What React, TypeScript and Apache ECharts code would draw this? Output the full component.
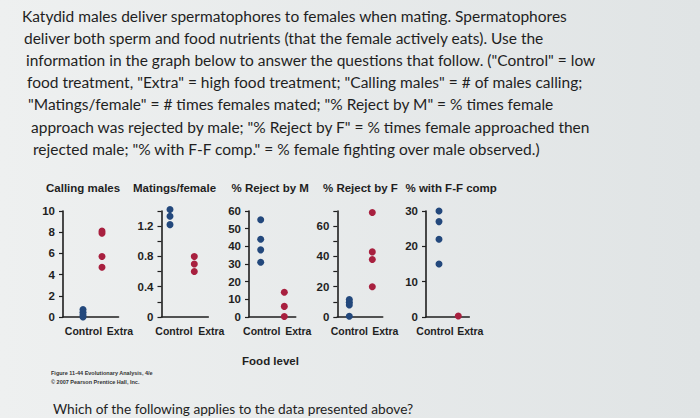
import React, { useEffect, useRef } from "react";
import * as echarts from "echarts";

// ---- data ----
const categories = ["Control", "Extra"];
const panelTitles = ["Calling males", "Matings/female", "% Reject by M", "% Reject by F", "% with F-F comp"];

const callingControl = [0.7, 0.45, 0.2, 0];
const callingExtra = [8.1, 7.9, 5.7, 4.7];
const matingsControl = [1.42, 1.33, 1.22];
const matingsExtra = [0.8, 0.7, 0.6];
const rejectMControl = [55, 44, 38, 31];
const rejectMExtra = [14, 6, 0.3];
const rejectFControl = [11.5, 9.8, 8, 0.5];
const rejectFExtra = [69, 43, 38, 20];
const ffControl = [30, 27, 22, 15];
const ffExtra = [0.3];

const callingTicks = ["0", "2", "4", "6", "8", "10"];
const matingsTicks = ["0", "0.4", "0.8", "1.2"];
const rejectMTicks = ["0", "10", "20", "30", "40", "50", "60"];
const rejectFTicks = ["0", "20", "40", "60"];
const ffTicks = ["0", "10", "20", "30"];

const paragraphLines = [
  "Katydid males deliver spermatophores to females when mating. Spermatophores",
  "deliver both sperm and food nutrients (that the female actively eats). Use the",
  "information in the graph below to answer the questions that follow. (\"Control\" = low",
  "food treatment, \"Extra\" = high food treatment; \"Calling males\" = # of males calling;",
  "\"Matings/female\" = # times females mated; \"% Reject by M\" = % times female",
  "approach was rejected by male; \"% Reject by F\" = % times female approached then",
  "rejected male; \"% with F-F comp.\" = % female fighting over male observed.)",
];
const xAxisTitle = "Food level";
const creditLines = ["Figure 11-44 Evolutionary Analysis, 4/e", "\u00a9 2007 Pearson Prentice Hall, Inc."];
const questionText = "Which of the following applies to the data presented above?";

const panels = [
  { title: panelTitles[0], control: callingControl, extra: callingExtra, max: 10, interval: 2, ticks: callingTicks },
  { title: panelTitles[1], control: matingsControl, extra: matingsExtra, max: 1.4, interval: 0.2, ticks: matingsTicks },
  { title: panelTitles[2], control: rejectMControl, extra: rejectMExtra, max: 60, interval: 10, ticks: rejectMTicks },
  { title: panelTitles[3], control: rejectFControl, extra: rejectFExtra, max: 70, interval: 10, ticks: rejectFTicks },
  { title: panelTitles[4], control: ffControl, extra: ffExtra, max: 30, interval: 10, ticks: ffTicks },
];

// ---- layout (pixels) ----
// axisX, controlX, extraX, endX, titleX, controlLabelShift, extraLabelShift
const layout = [
  [63, 83, 102, 118.5, 46, 0.5, 18],
  [161.5, 170, 194.3, 208.3, 133, 4, 17],
  [249, 260.7, 284.3, 295.7, 231.5, 1, 14],
  [337.3, 349.3, 372.3, 382.7, 323, 0, 13],
  [426, 439, 458.3, 469.3, 405.5, -4, 12],
];
const lineX = [22, 24, 26, 27, 28, 31, 33];
const lineY = [16, 38, 60, 82, 104, 127, 149];

const BLUE = "#23487c";
const RED = "#a8203f";
const INK = "#1f1f1f";
const CHART_FONT = "'Liberation Sans', Arial, sans-serif";
const TEXT_FONT = "Lato, 'Noto Sans', sans-serif";

function shiftPad(d: number) {
  return d >= 0 ? [0, 0, 0, 2 * d] : [0, -2 * d, 0, 0];
}

export default function App() {
  const ref = useRef<HTMLDivElement>(null);
  useEffect(() => {
    if (!ref.current) return;
    const chart = echarts.init(ref.current, undefined, { renderer: "svg", width: 700, height: 418 });
    const GRID_TOP = 211;
    const GRID_H = 106;

    const grids = panels.map((p, i) => {
      const [ax, , , ex] = layout[i];
      return { left: ax, top: GRID_TOP, width: ex - ax, height: GRID_H, containLabel: false };
    });
    const xAxes = panels.map((p, i) => {
      const [ax, cx, xx, ex, , cs, es] = layout[i];
      const unit = xx - cx;
      return {
        type: "value",
        gridIndex: i,
        min: 1 - (cx - ax) / unit,
        max: 2 + (ex - xx) / unit,
        axisLine: { show: true, onZero: false, lineStyle: { color: INK, width: 1.6 } },
        axisTick: { show: false },
        splitLine: { show: false },
        axisLabel: {
          customValues: [1, 2],
          margin: 8,
          formatter: (v: number) => (Math.round(v) === 1 ? "{c|" + categories[0] + "}" : "{e|" + categories[1] + "}"),
          rich: {
            c: { fontFamily: CHART_FONT, fontWeight: "bold", fontSize: 10.5, color: INK, padding: shiftPad(cs) },
            e: { fontFamily: CHART_FONT, fontWeight: "bold", fontSize: 10.5, color: INK, padding: shiftPad(es) },
          },
        },
      };
    });
    const yAxes = panels.map((p, i) => ({
      type: "value",
      gridIndex: i,
      min: 0,
      max: p.max,
      interval: p.interval,
      axisLine: { show: true, onZero: false, lineStyle: { color: INK, width: 1.6 } },
      axisTick: { show: true, inside: false, length: 4, lineStyle: { color: INK, width: 1.2 } },
      splitLine: { show: false },
      axisLabel: {
        margin: 8,
        fontFamily: CHART_FONT,
        fontWeight: "bold",
        fontSize: 11.5,
        color: INK,
        formatter: (v: number) => {
          const hit = p.ticks.find((t) => Math.abs(parseFloat(t) - v) < 1e-6);
          return hit !== undefined ? hit : "";
        },
      },
    }));
    const series: any[] = [];
    panels.forEach((p, i) => {
      [p.control, p.extra].forEach((vals, ci) => {
        series.push({
          type: "scatter",
          name: categories[ci],
          xAxisIndex: i,
          yAxisIndex: i,
          clip: false,
          symbolSize: 7,
          itemStyle: { color: ci === 0 ? BLUE : RED, opacity: 1 },
          data: vals.map((v) => [ci + 1, v]),
        });
      });
    });
    const titles = panels.map((p, i) => ({
      text: p.title,
      left: layout[i][4],
      top: 182,
      padding: 0,
      textStyle: { fontFamily: CHART_FONT, fontWeight: "bold", fontSize: 11.5, color: INK },
    }));

    const graphic: any[] = [];
    paragraphLines.forEach((t, i) => {
      graphic.push({
        type: "text",
        x: lineX[i],
        y: lineY[i],
        style: { text: t, font: "15.5px " + TEXT_FONT, fill: INK, textVerticalAlign: "middle", textAlign: "left" },
      });
    });
    graphic.push({
      type: "text",
      x: 270.5,
      y: 360.5,
      style: { text: xAxisTitle, font: "bold 11.5px " + CHART_FONT, fill: INK, textAlign: "center", textVerticalAlign: "middle" },
    });
    creditLines.forEach((t, i) => {
      graphic.push({
        type: "text",
        x: 51,
        y: 373 + i * 8.5,
        style: { text: t, font: "bold 5.5px " + CHART_FONT, fill: "#333", textVerticalAlign: "middle" },
      });
    });
    graphic.push({
      type: "text",
      x: 53,
      y: 408,
      style: { text: questionText, font: "13.7px " + TEXT_FONT, fill: INK, textVerticalAlign: "middle" },
    });

    chart.setOption({
      animation: false,
      backgroundColor: {
        type: "linear",
        x: 0,
        y: 0,
        x2: 1,
        y2: 0,
        colorStops: [
          { offset: 0, color: "#eef0f0" },
          { offset: 1, color: "#e0e4e5" },
        ],
      },
      title: titles,
      grid: grids,
      xAxis: xAxes,
      yAxis: yAxes,
      series,
      graphic,
    } as any);
    return () => chart.dispose();
  }, []);
  return <div ref={ref} style={{ position: "fixed", left: 0, top: 0, width: 700, height: 418 }} />;
}
